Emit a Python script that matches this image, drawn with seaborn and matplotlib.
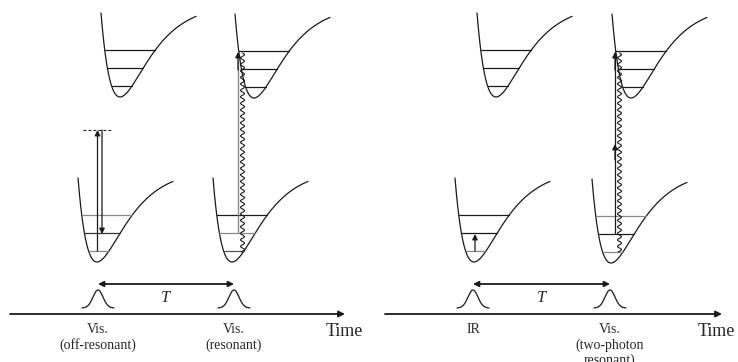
import numpy as np
import matplotlib.pyplot as plt
import seaborn as sns

sns.set_theme(style="white")
plt.rcParams['font.family'] = ['Liberation Serif', 'DejaVu Serif']

# potential wells: left-wall x, bottom y (pixel units of the sketch)
well_x = [101, 235, 78, 213, 477, 612, 455, 592]
well_ymin = [97, 98, 262, 262, 97, 98, 262, 263]
level_heights = [47, 29, 11]
# level colours for each well (top, middle, bottom)
level_colors = [
    ['k', 'k', 'k'], ['k', 'k', 'k'],
    ['#888888', '#333333', '#888888'], ['k', '#888888', '#555555'],
    ['k', 'k', 'k'], ['k', 'k', 'k'],
    ['k', 'k', '#888888'], ['#888888', 'k', '#888888'],
]
W, D, A, UE = 95, 93, 3.34, 0.2

# pulses on the time axes
pulse_x = [98, 234, 473, 610]
pulse_labels = ["Vis.\n(off-resonant)", "Vis.\n(resonant)", "IR", "Vis.\n(two-photon\nresonant)"]
axis_start = [10, 385]
axis_end = [345, 722]
time_label_x = [344, 716]

fig = plt.figure(figsize=(7.38, 3.62), dpi=100)
ax = fig.add_axes([0, 0, 1, 1])
ax.set_xlim(0, 738)
ax.set_ylim(362, 0)
ax.axis('off')


def morse_u(h, side):
    s = np.sqrt(h / D)
    return UE - np.log(1 + s) / A if side < 0 else UE - np.log(1 - s) / A


u = np.linspace(0, 1, 200)
for i, (x0, ym) in enumerate(zip(well_x, well_ymin)):
    V = D * (1 - np.exp(-A * (u - UE))) ** 2
    sns.lineplot(x=x0 + W * u, y=ym - V, ax=ax, color='k', lw=0.9,
                 sort=False, estimator=None)
    for h, c in zip(level_heights, level_colors[i]):
        xl = x0 + W * morse_u(h, -1)
        xr = x0 + W * morse_u(h, 1)
        ax.plot([xl, xr], [ym - h, ym - h], color=c, lw=0.9)


def arrow(x1, y1, x2, y2, color='k', lw=0.9, style='-|>', ms=8):
    ax.annotate('', xy=(x2, y2), xytext=(x1, y1),
                arrowprops=dict(arrowstyle=style, color=color, lw=lw,
                                mutation_scale=ms, shrinkA=0, shrinkB=0))


def wavy(x, y_top, y_bot):
    yy = np.linspace(y_top, y_bot, 400)
    ax.plot(x + 2.0 * np.sin(2 * np.pi * (yy - y_top) / 6.5), yy, color='k', lw=0.8)


# panel 1: off-resonant Raman
ax.plot([83, 113], [130, 130], color='k', lw=0.8, ls=(0, (2.5, 2)))
arrow(97.5, 251, 97.5, 130)
arrow(102, 130, 102, 234)
# panel 1: resonant probe + emission
ax.plot([238, 238], [233, 60], color='#888888', lw=1.0)
arrow(238, 70, 238, 52)
wavy(242.5, 53, 252)

# panel 2: IR excitation
arrow(475, 251, 475, 234)
# panel 2: two-photon probe + emission
ax.plot([615, 615], [233, 52], color='k', lw=0.9)
arrow(615, 160, 615, 144)
arrow(615, 70, 615, 52)
wavy(619.5, 53, 252)

# time axes, pulses, delay arrows
g = np.linspace(-16, 16, 80)
for k in range(2):
    arrow(axis_start[k], 314, axis_end[k], 314, lw=1.3, ms=9)
    ax.text(time_label_x[k], 332, "Time", fontsize=13, ha='center', va='center')
    p1, p2 = pulse_x[2 * k], pulse_x[2 * k + 1]
    arrow(p1, 284, p2, 284, lw=1.3, style='<|-|>', ms=8)
    ax.text((p1 + p2) / 2, 298, "T", fontsize=12, style='italic',
            ha='center', va='center')

for px, lab in zip(pulse_x, pulse_labels):
    sns.lineplot(x=px + g, y=308 - 18 * np.exp(-g ** 2 / (2 * 5.0 ** 2)),
                 ax=ax, color='k', lw=0.9, sort=False, estimator=None)
    ax.text(px, 323, lab, fontsize=10, ha='center', va='top', linespacing=1.2)

fig.savefig("out.png", dpi=100)
